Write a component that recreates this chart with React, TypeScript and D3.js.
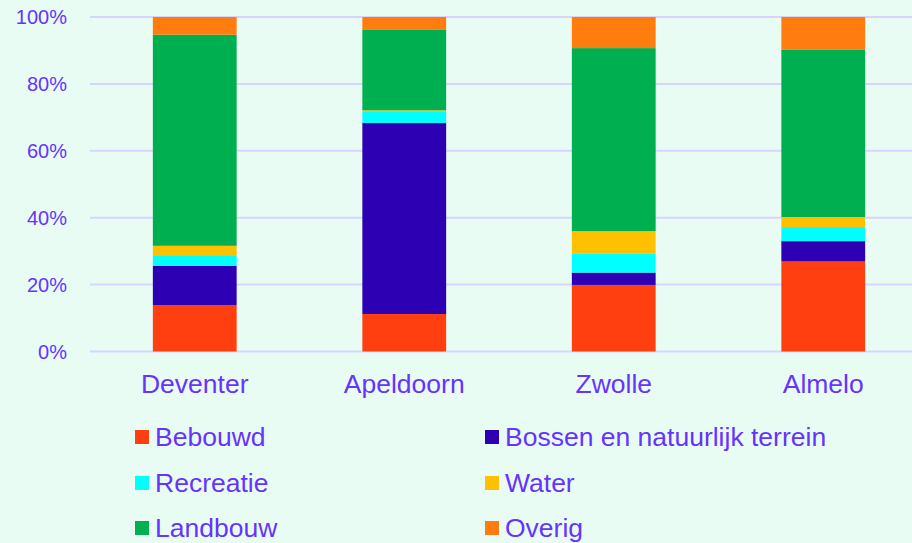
import React from "react";
import * as d3 from "d3";

const categories = ["Deventer", "Apeldoorn", "Zwolle", "Almelo"];
const seriesNames = ["Bebouwd", "Bossen en natuurlijk terrein", "Recreatie", "Water", "Landbouw", "Overig"];
const bebouwd = [13.9, 11.2, 19.9, 26.9];
const bossen = [11.7, 57.1, 3.7, 6.1];
const recreatie = [3.2, 3.3, 5.6, 4.2];
const water = [2.8, 0.5, 6.8, 3.0];
const landbouw = [63.1, 24.2, 54.7, 50.1];
const overig = [5.3, 3.7, 9.3, 9.7];
const yTicks = [0, 20, 40, 60, 80, 100];
const colors = ["#FF3F0F", "#2E00B4", "#00FFFF", "#FFC000", "#00B050", "#FF7C0F"];

const W = 912;
const H = 543;
const TEXT = "#6633FF";
const FONT = "Arial, 'Liberation Sans', sans-serif";

export default function App() {
  const seriesValues = [bebouwd, bossen, recreatie, water, landbouw, overig];
  const rows = categories.map((c, i) => {
    const r: any = { cat: c };
    seriesNames.forEach((s, j) => (r[s] = seriesValues[j][i]));
    return r;
  });
  const stack = d3.stack<any>().keys(seriesNames)(rows);

  const x = d3.scaleBand<string>().domain(categories).range([90, 928]).paddingInner(0.6).paddingOuter(0.3);
  const y = d3.scaleLinear().domain([0, 100]).range([351.5, 17]);

  const legendX = [135, 485];
  const legendY = [437, 483, 528];

  return (
    <svg width={W} height={H} style={{ position: "absolute", left: 0, top: 0, display: "block" }} fontFamily={FONT}>
      <rect x={0} y={0} width={W} height={H} fill="#E9FCF3" />
      {yTicks.map((t) => (
        <g key={t}>
          <line x1={90} x2={W} y1={y(t)} y2={y(t)} stroke="#D9D3FF" strokeWidth={2} />
          <text x={67} y={y(t)} dy="0.35em" textAnchor="end" fontSize={20} fill={TEXT}>
            {t}%
          </text>
        </g>
      ))}
      {stack.map((layer, j) => (
        <g key={layer.key} fill={colors[j]}>
          {layer.map((d, i) => (
            <rect
              key={i}
              x={x(categories[i])}
              width={x.bandwidth()}
              y={y(d[1])}
              height={y(d[0]) - y(d[1])}
            />
          ))}
        </g>
      ))}
      {categories.map((c) => (
        <text key={c} x={(x(c) as number) + x.bandwidth() / 2} y={384} dy="0.35em" textAnchor="middle" fontSize={26.5} fill={TEXT}>
          {c}
        </text>
      ))}
      {seriesNames.map((s, j) => {
        const col = j % 2;
        const row = Math.floor(j / 2);
        const lx = legendX[col];
        const ly = legendY[row];
        return (
          <g key={s}>
            <rect x={lx} y={ly - 7} width={14} height={14} fill={colors[j]} />
            <text x={lx + 20} y={ly} dy="0.35em" fontSize={26.5} fill={TEXT}>
              {s}
            </text>
          </g>
        );
      })}
    </svg>
  );
}
